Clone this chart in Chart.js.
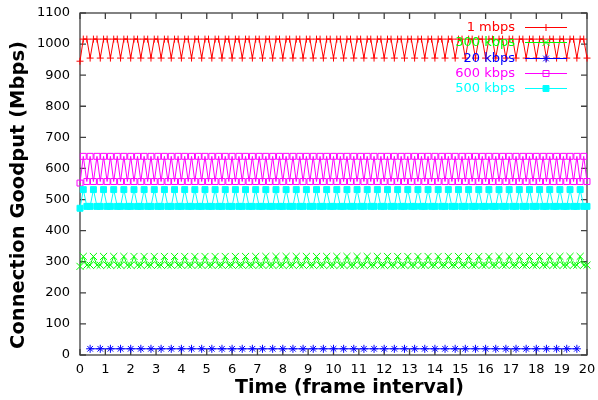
<!DOCTYPE html>
<html>
<head>
<meta charset="utf-8">
<script src="https://cdn.jsdelivr.net/npm/chart.js@4/dist/chart.umd.min.js"></script>
<style>body{margin:0;background:#fff}</style>
</head>
<body>
<canvas id="goodput" width="598" height="400"></canvas>
<script>
// sample times (frame interval)
const time = [
  0, 0.13, 0.27, 0.4, 0.53, 0.67, 0.8, 0.93, 1.07, 1.2, 1.33, 1.47, 1.6, 1.73, 1.87,
  2, 2.13, 2.27, 2.4, 2.53, 2.67, 2.8, 2.93, 3.07, 3.2, 3.33, 3.47, 3.6, 3.73, 3.87,
  4, 4.13, 4.27, 4.4, 4.53, 4.67, 4.8, 4.93, 5.07, 5.2, 5.33, 5.47, 5.6, 5.73, 5.87,
  6, 6.13, 6.27, 6.4, 6.53, 6.67, 6.8, 6.93, 7.07, 7.2, 7.33, 7.47, 7.6, 7.73, 7.87,
  8, 8.13, 8.27, 8.4, 8.53, 8.67, 8.8, 8.93, 9.07, 9.2, 9.33, 9.47, 9.6, 9.73, 9.87,
  10, 10.13, 10.27, 10.4, 10.53, 10.67, 10.8, 10.93, 11.07, 11.2, 11.33, 11.47, 11.6, 11.73, 11.87,
  12, 12.13, 12.27, 12.4, 12.53, 12.67, 12.8, 12.93, 13.07, 13.2, 13.33, 13.47, 13.6, 13.73, 13.87,
  14, 14.13, 14.27, 14.4, 14.53, 14.67, 14.8, 14.93, 15.07, 15.2, 15.33, 15.47, 15.6, 15.73, 15.87,
  16, 16.13, 16.27, 16.4, 16.53, 16.67, 16.8, 16.93, 17.07, 17.2, 17.33, 17.47, 17.6, 17.73, 17.87,
  18, 18.13, 18.27, 18.4, 18.53, 18.67, 18.8, 18.93, 19.07, 19.2, 19.33, 19.47, 19.6, 19.73, 19.87,
  20
];

const mbps1 = [
  945, 1016, 1016, 955, 1016, 1016, 955, 1016, 1016, 955, 1016, 1016, 955, 1016, 1016,
  955, 1016, 1016, 955, 1016, 1016, 955, 1016, 1016, 955, 1016, 1016, 955, 1016, 1016,
  955, 1016, 1016, 955, 1016, 1016, 955, 1016, 1016, 955, 1016, 1016, 955, 1016, 1016,
  955, 1016, 1016, 955, 1016, 1016, 955, 1016, 1016, 955, 1016, 1016, 955, 1016, 1016,
  955, 1016, 1016, 955, 1016, 1016, 955, 1016, 1016, 955, 1016, 1016, 955, 1016, 1016,
  955, 1016, 1016, 955, 1016, 1016, 955, 1016, 1016, 955, 1016, 1016, 955, 1016, 1016,
  955, 1016, 1016, 955, 1016, 1016, 955, 1016, 1016, 955, 1016, 1016, 955, 1016, 1016,
  955, 1016, 1016, 955, 1016, 1016, 955, 1016, 1016, 955, 1016, 1016, 955, 1016, 1016,
  955, 1016, 1016, 955, 1016, 1016, 955, 1016, 1016, 955, 1016, 1016, 955, 1016, 1016,
  955, 1016, 1016, 955, 1016, 1016, 955, 1016, 1016, 955, 1016, 1016, 955, 1016, 1016,
  955
];

const kbps300 = [
  285, 317, 289, 289, 317, 289, 289, 317, 289, 289, 317, 289, 289, 317, 289,
  289, 317, 289, 289, 317, 289, 289, 317, 289, 289, 317, 289, 289, 317, 289,
  289, 317, 289, 289, 317, 289, 289, 317, 289, 289, 317, 289, 289, 317, 289,
  289, 317, 289, 289, 317, 289, 289, 317, 289, 289, 317, 289, 289, 317, 289,
  289, 317, 289, 289, 317, 289, 289, 317, 289, 289, 317, 289, 289, 317, 289,
  289, 317, 289, 289, 317, 289, 289, 317, 289, 289, 317, 289, 289, 317, 289,
  289, 317, 289, 289, 317, 289, 289, 317, 289, 289, 317, 289, 289, 317, 289,
  289, 317, 289, 289, 317, 289, 289, 317, 289, 289, 317, 289, 289, 317, 289,
  289, 317, 289, 289, 317, 289, 289, 317, 289, 289, 317, 289, 289, 317, 289,
  289, 317, 289, 289, 317, 289, 289, 317, 289, 289, 317, 289, 289, 317, 289,
  289
];

// 20 kbps is only sampled every 0.4
const blueTime = [
  0.4, 0.8, 1.2, 1.6, 2, 2.4, 2.8,
  3.2, 3.6, 4, 4.4, 4.8, 5.2, 5.6,
  6, 6.4, 6.8, 7.2, 7.6, 8, 8.4,
  8.8, 9.2, 9.6, 10, 10.4, 10.8, 11.2,
  11.6, 12, 12.4, 12.8, 13.2, 13.6, 14,
  14.4, 14.8, 15.2, 15.6, 16, 16.4, 16.8,
  17.2, 17.6, 18, 18.4, 18.8, 19.2, 19.6
];
const kbps20 = [
  20, 20, 20, 20, 20, 20, 20,
  20, 20, 20, 20, 20, 20, 20,
  20, 20, 20, 20, 20, 20, 20,
  20, 20, 20, 20, 20, 20, 20,
  20, 20, 20, 20, 20, 20, 20,
  20, 20, 20, 20, 20, 20, 20,
  20, 20, 20, 20, 20, 20, 20
];

const kbps600 = [
  553, 639, 558, 639, 558, 639, 558, 639, 558, 639, 558, 639, 558, 639, 558,
  639, 558, 639, 558, 639, 558, 639, 558, 639, 558, 639, 558, 639, 558, 639,
  558, 639, 558, 639, 558, 639, 558, 639, 558, 639, 558, 639, 558, 639, 558,
  639, 558, 639, 558, 639, 558, 639, 558, 639, 558, 639, 558, 639, 558, 639,
  558, 639, 558, 639, 558, 639, 558, 639, 558, 639, 558, 639, 558, 639, 558,
  639, 558, 639, 558, 639, 558, 639, 558, 639, 558, 639, 558, 639, 558, 639,
  558, 639, 558, 639, 558, 639, 558, 639, 558, 639, 558, 639, 558, 639, 558,
  639, 558, 639, 558, 639, 558, 639, 558, 639, 558, 639, 558, 639, 558, 639,
  558, 639, 558, 639, 558, 639, 558, 639, 558, 639, 558, 639, 558, 639, 558,
  639, 558, 639, 558, 639, 558, 639, 558, 639, 558, 639, 558, 639, 558, 639,
  558
];

const kbps500 = [
  472, 532, 478, 478, 532, 478, 478, 532, 478, 478, 532, 478, 478, 532, 478,
  478, 532, 478, 478, 532, 478, 478, 532, 478, 478, 532, 478, 478, 532, 478,
  478, 532, 478, 478, 532, 478, 478, 532, 478, 478, 532, 478, 478, 532, 478,
  478, 532, 478, 478, 532, 478, 478, 532, 478, 478, 532, 478, 478, 532, 478,
  478, 532, 478, 478, 532, 478, 478, 532, 478, 478, 532, 478, 478, 532, 478,
  478, 532, 478, 478, 532, 478, 478, 532, 478, 478, 532, 478, 478, 532, 478,
  478, 532, 478, 478, 532, 478, 478, 532, 478, 478, 532, 478, 478, 532, 478,
  478, 532, 478, 478, 532, 478, 478, 532, 478, 478, 532, 478, 478, 532, 478,
  478, 532, 478, 478, 532, 478, 478, 532, 478, 478, 532, 478, 478, 532, 478,
  478, 532, 478, 478, 532, 478, 478, 532, 478, 478, 532, 478, 478, 532, 478,
  478
];

const xTicks = [0, 1, 2, 3, 4, 5, 6, 7, 8, 9, 10, 11, 12, 13, 14, 15, 16, 17, 18, 19, 20];
const yTicks = [0, 100, 200, 300, 400, 500, 600, 700, 800, 900, 1000, 1100];
const xTitle = 'Time (frame interval)';
const yTitle = 'Connection Goodput (Mbps)';

const pts = (xs, ys) => xs.map((x, i) => ({x: x, y: ys[i]}));

function series(label, data, color, style, radius, fill, order) {
  return {
    label: label,
    data: data,
    borderColor: color,
    backgroundColor: color,
    borderWidth: 1,
    pointStyle: style,
    pointRadius: radius,
    pointBorderWidth: 1,
    pointBorderColor: color,
    pointBackgroundColor: fill,
    tension: 0,
    clip: false,
    order: order
  };
}

// gnuplot style frame: border + inward ticks on all four sides
const frameTicks = {
  id: 'frameTicks',
  beforeDatasetsDraw(chart) {
    const {ctx, chartArea: a, scales} = chart;
    ctx.save();
    ctx.strokeStyle = '#404040';
    ctx.lineWidth = 1.3;
    ctx.strokeRect(a.left, a.top, a.right - a.left, a.bottom - a.top);
    ctx.beginPath();
    scales.x.ticks.forEach(t => {
      const px = scales.x.getPixelForValue(t.value);
      ctx.moveTo(px, a.bottom); ctx.lineTo(px, a.bottom - 6);
      ctx.moveTo(px, a.top); ctx.lineTo(px, a.top + 6);
    });
    scales.y.ticks.forEach(t => {
      const py = scales.y.getPixelForValue(t.value);
      ctx.moveTo(a.left, py); ctx.lineTo(a.left + 6, py);
      ctx.moveTo(a.right, py); ctx.lineTo(a.right - 6, py);
    });
    ctx.stroke();

    // axis titles, placed like gnuplot does (a bit off the plot centre)
    ctx.fillStyle = '#000';
    ctx.textAlign = 'center';
    ctx.textBaseline = 'middle';
    ctx.font = 'bold 19px "DejaVu Sans"';
    ctx.fillText(xTitle, (a.left + a.right) / 2 + 16, 388);
    ctx.translate(19, (a.top + a.bottom) / 2 + 11);
    ctx.rotate(-Math.PI / 2);
    ctx.font = 'bold 19.5px "DejaVu Sans"';
    ctx.fillText(yTitle, 0, 0);
    ctx.restore();
  }
};

// key in the top right corner: text, then line sample with marker
const lineKey = {
  id: 'lineKey',
  afterDraw(chart) {
    const {ctx, chartArea: a} = chart;
    ctx.save();
    ctx.font = '13px "DejaVu Sans"';
    ctx.textAlign = 'right';
    ctx.textBaseline = 'middle';
    chart.data.datasets.forEach((ds, i) => {
      const y = Math.round(a.top + 13.7 + i * 15.4) + 0.5;
      ctx.fillStyle = ds.borderColor;
      ctx.fillText(ds.label, a.right - 72, y);
      ctx.strokeStyle = ds.borderColor;
      ctx.lineWidth = 1;
      ctx.beginPath();
      ctx.moveTo(a.right - 62, y);
      ctx.lineTo(a.right - 20, y);
      ctx.stroke();
      ctx.strokeStyle = ds.borderColor;
      ctx.fillStyle = ds.pointBackgroundColor;
      Chart.helpers.drawPoint(ctx, {pointStyle: ds.pointStyle, radius: ds.pointRadius, borderWidth: 1, rotation: 0}, a.right - 41, y);
    });
    ctx.restore();
  }
};

new Chart(document.getElementById('goodput'), {
  type: 'line',
  data: {
    datasets: [
      series('1 mbps', pts(time, mbps1), '#ff0000', 'cross', 3.5, '#ff0000', 5),
      series('300 kbps', pts(time, kbps300), '#00ff00', 'crossRot', 5, '#00ff00', 4),
      series('20 kbps', pts(blueTime, kbps20), '#0000ff', 'star', 4, '#0000ff', 3),
      series('600 kbps', pts(time, kbps600), '#ff00ff', 'rect', 4.2, 'rgba(0,0,0,0)', 2),
      series('500 kbps', pts(time, kbps500), '#00ffff', 'rect', 4.2, '#00ffff', 1)
    ]
  },
  options: {
    responsive: false,
    animation: false,
    layout: {padding: {top: 13, right: 11, left: 0, bottom: 0}},
    plugins: {legend: {display: false}, tooltip: {enabled: false}},
    scales: {
      x: {
        type: 'linear',
        min: 0,
        max: 20,
        afterBuildTicks: s => { s.ticks = xTicks.map(v => ({value: v})); },
        afterFit: s => { s.height = 45; s.paddingLeft = 0; s.paddingRight = 0; },
        grid: {display: false, drawTicks: false},
        border: {display: false},
        ticks: {color: '#000', padding: 7, font: {family: 'DejaVu Sans', size: 13}, callback: v => String(v)}
      },
      y: {
        min: 0,
        max: 1100,
        afterBuildTicks: s => { s.ticks = yTicks.map(v => ({value: v})); },
        afterFit: s => { s.width = 80; s.paddingTop = 0; s.paddingBottom = 0; },
        grid: {display: false, drawTicks: false},
        border: {display: false},
        ticks: {color: '#000', padding: 10, font: {family: 'DejaVu Sans', size: 13}, callback: v => String(v)}
      }
    }
  },
  plugins: [frameTicks, lineKey]
});
</script>
</body>
</html>
